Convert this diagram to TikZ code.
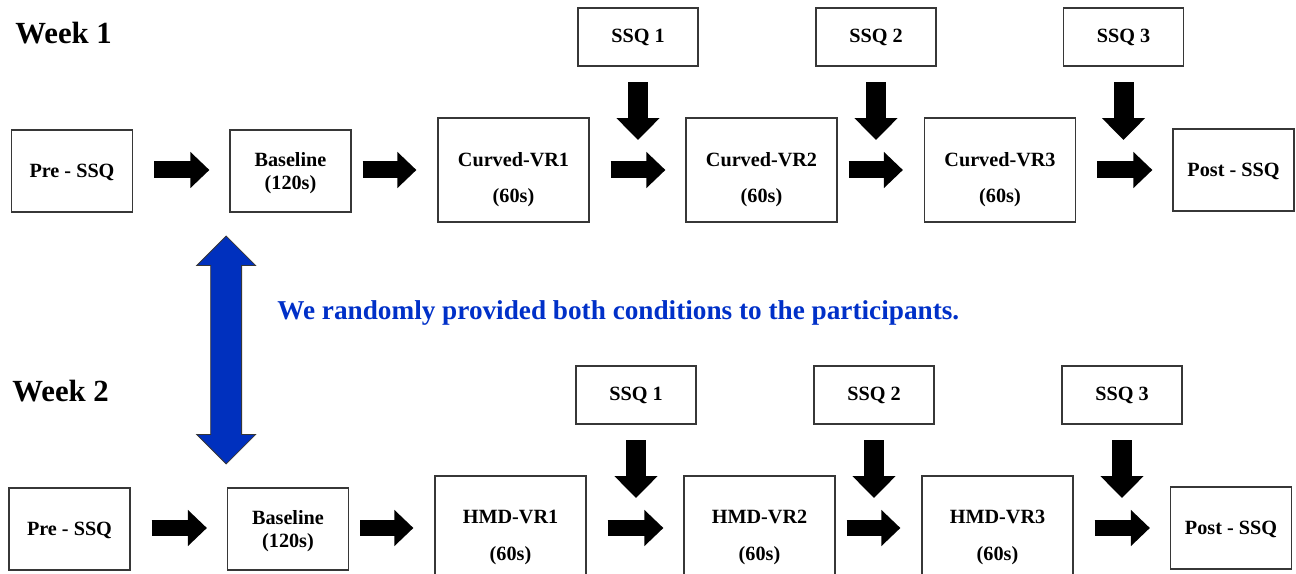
\documentclass[tikz,border=0pt]{standalone}
\usepackage{fontspec}
\setmainfont{Liberation Serif}
\usetikzlibrary{arrows.meta,shapes.arrows,calc}
\definecolor{frame}{RGB}{55,55,55}
\definecolor{swapblue}{RGB}{0,48,190}
\definecolor{noteblue}{RGB}{0,48,200}

\begin{document}
\begin{tikzpicture}[x=0.02cm, y=-0.02cm]
    \tikzset{%
      box/.style={draw=frame, line width=0.7pt, inner sep=0pt, align=center,
        font=\fontsize{11.5}{13}\selectfont\bfseries},
      step box/.style={box, text depth=0pt, minimum width=2.42cm, minimum height=1.64cm},
      vrbox/.style={box, minimum width=3.02cm, minimum height=2.08cm},
      vrtext/.style={align=center, inner sep=0pt, yshift=-0.19cm,
        font=\fontsize{11.5}{20.8}\selectfont\bfseries},
      ssq/.style={box, minimum width=2.40cm, minimum height=1.16cm},
      week/.style={anchor=base west, inner sep=0pt,
        font=\fontsize{17.5}{20}\selectfont\bfseries},
      rarrow/.style={line width=0.34cm, -{Triangle[length=0.38cm, width=0.70cm]}},
      widegap/.style={rarrow, shorten <=0.42cm, shorten >=0.40cm},
      narrowgap/.style={rarrow, shorten <=0.22cm, shorten >=0.42cm},
      darrow/.style={line width=0.40cm, -{Triangle[length=0.44cm, width=0.84cm]},
        shorten <=0.31cm, shorten >=0.60cm},
      swaparrow/.style={double arrow, draw=frame, fill=swapblue, line width=0.5pt,
        rotate=90, inner xsep=0pt, inner ysep=0.30cm, minimum height=4.56cm,
        double arrow head extend=0.28cm},
    }
    \clip (0,0) rectangle (1296,574);

% week 1
    \node[week] (w1) at (15,43.3) {Week 1};
    \node[step box] (pre1) at (72,171) {Pre - SSQ};
    \node[step box] (base1) at (290.5,171) {Baseline\\(120s)};
    \node[vrbox, label={[vrtext]center:{Curved-VR1\\(60s)}}] (vr1a) at (513.5,170) {};
    \node[vrbox, label={[vrtext]center:{Curved-VR2\\(60s)}}] (vr1b) at (761.5,170) {};
    \node[vrbox, label={[vrtext]center:{Curved-VR3\\(60s)}}] (vr1c) at (1000,170) {};
    \node[step box] (post1) at (1233.5,170) {Post - SSQ};
    \node[ssq] (ssq1a) at (638,37) {SSQ 1};
    \node[ssq] (ssq1b) at (876,37) {SSQ 2};
    \node[ssq] (ssq1c) at (1123.5,37) {SSQ 3};

    \draw[widegap] (pre1.east |- vr1a) -- (base1.west |- vr1a);
    \draw[narrowgap] (base1.east |- vr1a) -- (vr1a);
    \draw[widegap] (vr1a) -- (vr1b);
    \draw[narrowgap] (vr1b) -- (vr1c);
    \draw[widegap] (vr1c) -- (post1);

    \coordinate (j1a) at (ssq1a |- vr1a);
    \coordinate (j1b) at (ssq1b |- vr1a);
    \coordinate (j1c) at (ssq1c |- vr1a);
    \draw[darrow] (ssq1a) -- (j1a);
    \draw[darrow] (ssq1b) -- (j1b);
    \draw[darrow] (ssq1c) -- (j1c);

% week 2
    \node[week] (w2) at (12,401.3) {Week 2};
    \node[step box] (pre2) at (69.5,529) {Pre - SSQ};
    \node[step box] (base2) at (288,529) {Baseline\\(120s)};
    \node[vrbox, label={[vrtext]center:{HMD-VR1\\(60s)}}] (vr2a) at (510.5,528) {};
    \node[vrbox, label={[vrtext]center:{HMD-VR2\\(60s)}}] (vr2b) at (759.5,528) {};
    \node[vrbox, label={[vrtext]center:{HMD-VR3\\(60s)}}] (vr2c) at (997.5,528) {};
    \node[step box] (post2) at (1231,528) {Post - SSQ};
    \node[ssq] (ssq2a) at (636,395) {SSQ 1};
    \node[ssq] (ssq2b) at (874,395) {SSQ 2};
    \node[ssq] (ssq2c) at (1122,395) {SSQ 3};

    \draw[widegap] (pre2.east |- vr2a) -- (base2.west |- vr2a);
    \draw[narrowgap] (base2.east |- vr2a) -- (vr2a);
    \draw[widegap] (vr2a) -- (vr2b);
    \draw[narrowgap] (vr2b) -- (vr2c);
    \draw[widegap] (vr2c) -- (post2);

    \coordinate (j2a) at (ssq2a |- vr2a);
    \coordinate (j2b) at (ssq2b |- vr2a);
    \coordinate (j2c) at (ssq2c |- vr2a);
    \draw[darrow] (ssq2a) -- (j2a);
    \draw[darrow] (ssq2b) -- (j2b);
    \draw[darrow] (ssq2c) -- (j2c);

% both weeks
    \node[swaparrow] (swap) at ($(base1.south west)!0.5!(base2.north west)+(-2,0)$) {};
    \node[anchor=base west, inner sep=0pt, text=noteblue,
      font=\fontsize{15.5}{18}\selectfont\bfseries]
      (note) at (277,319.3) {We randomly provided both conditions to the participants.};
\end{tikzpicture}
\end{document}
